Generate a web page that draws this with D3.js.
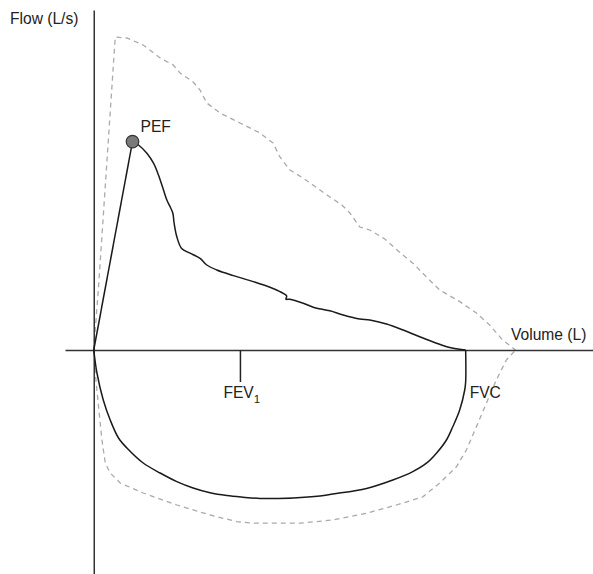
<!DOCTYPE html>
<html>
<head>
<meta charset="utf-8">
<script src="https://cdn.jsdelivr.net/npm/d3@7"></script>
<style>
  html, body { margin: 0; padding: 0; background: #fff; }
  svg { display: block; }
  text { font-family: "Liberation Sans", Arial, Helvetica, sans-serif; fill: #222; }
</style>
</head>
<body>
<svg id="chart" width="593" height="574"></svg>
<script>
// ---- data (volume in L, flow in L/s) ----
const xExtent = [-0.36, 6.25];   // volume axis extent
const yExtent = [-5.6, 8.5];     // flow axis extent

const pefPoint = [0.485, 5.21];
const fev1Volume = 1.83;
const fvcVolume = 4.656;

// measured expiratory limb (origin -> PEF -> FVC)
const expVolume = [0, 0.485, 0.56, 0.665, 0.748, 0.81, 0.873, 0.915, 0.956, 0.99, 1.006, 1.04, 1.10, 1.206, 1.331, 1.415, 1.54, 1.748, 1.998, 2.206, 2.331, 2.415, 2.406, 2.456, 2.623, 2.748, 2.956, 3.123, 3.331, 3.456, 3.665, 3.873, 4.081, 4.29, 4.456, 4.60, 4.656];
const expFlow   = [0, 5.21, 5.125, 4.92, 4.67, 4.375, 4.0, 3.75, 3.58, 3.42, 3.17, 2.83, 2.54, 2.42, 2.29, 2.125, 2.0, 1.86, 1.71, 1.57, 1.46, 1.35, 1.27, 1.27, 1.17, 1.07, 0.98, 0.875, 0.775, 0.75, 0.65, 0.5, 0.33, 0.17, 0.06, 0.01, 0];

// measured inspiratory limb (origin -> FVC)
const inspVolume = [0, 0.04, 0.119, 0.206, 0.31, 0.415, 0.619, 0.831, 1.04, 1.244, 1.456, 1.665, 1.869, 2.081, 2.29, 2.494, 2.831, 2.994, 3.415, 3.744, 3.994, 4.165, 4.29, 4.415, 4.494, 4.581, 4.644, 4.656, 4.656];
const inspFlow   = [0, -0.575, -1.25, -1.75, -2.2, -2.45, -2.825, -3.075, -3.29, -3.45, -3.57, -3.64, -3.68, -3.71, -3.71, -3.70, -3.65, -3.60, -3.46, -3.25, -3.04, -2.83, -2.58, -2.25, -1.92, -1.5, -1.0, -0.79, 0];

// predicted loop (dashed)
const predUpVolume = [0, 0.06, 0.269, 0.415, 0.619, 0.831, 0.994, 1.081, 1.244, 1.331, 1.415, 1.581, 1.831, 2.081, 2.244, 2.331, 2.456, 2.619, 2.744, 2.956, 3.106, 3.206, 3.331, 3.456, 3.644, 3.869, 4.006, 4.165, 4.331, 4.581, 4.79, 4.956, 5.119, 5.281];
const predUpFlow   = [0, 1.58, 7.825, 7.8, 7.625, 7.3, 7.125, 6.925, 6.7, 6.5, 6.175, 5.925, 5.675, 5.425, 5.175, 4.825, 4.5, 4.3, 4.125, 3.825, 3.625, 3.425, 3.075, 3.0, 2.775, 2.375, 2.15, 1.825, 1.5, 1.21, 0.925, 0.625, 0.25, 0];
const predDownVolume = [0, 0.019, 0.06, 0.1025, 0.144, 0.206, 0.331, 0.619, 1.04, 1.456, 1.79, 1.994, 2.581, 2.994, 3.415, 3.79, 4.119, 4.331, 4.54, 4.665, 4.79, 4.915, 5.04, 5.165, 5.281];
const predDownFlow   = [0, -0.575, -1.42, -2.25, -2.825, -3.075, -3.325, -3.575, -3.875, -4.125, -4.29, -4.33, -4.33, -4.25, -4.08, -3.875, -3.67, -3.325, -2.92, -2.5, -1.92, -1.33, -0.75, -0.25, 0];

const labels = { yTitle: "Flow (L/s)", xTitle: "Volume (L)", pef: "PEF", fev: "FEV", fevSub: "1", fvc: "FVC" };

// ---- drawing ----
const svg = d3.select("#chart");
const x = d3.scaleLinear().domain(xExtent).range([65, 593]);
const y = d3.scaleLinear().domain(yExtent).range([574, 10]);

const zip = (a, b) => a.map((v, i) => [v, b[i]]);
const expPts = zip(expVolume, expFlow);
const inspPts = zip(inspVolume, inspFlow);
const predPts = zip(predUpVolume, predUpFlow);
const predDownPts = zip(predDownVolume, predDownFlow);

// predicted dashed loop
const dashLine = d3.line().x(d => x(d[0])).y(d => y(d[1])).curve(d3.curveLinear);
svg.append("path").attr("d", dashLine(predPts))
  .attr("fill", "none").attr("stroke", "#aaa").attr("stroke-width", 1.3).attr("stroke-dasharray", "5,4");
svg.append("path").attr("d", dashLine(predDownPts))
  .attr("fill", "none").attr("stroke", "#aaa").attr("stroke-width", 1.3).attr("stroke-dasharray", "5,4");

// axes
const xAxis = d3.axisBottom(x).tickValues([fev1Volume]).tickSizeInner(32).tickSizeOuter(0).tickFormat("");
const gx = svg.append("g").attr("transform", `translate(0,${y(0)})`).call(xAxis);
const yAxis = d3.axisLeft(y).tickValues([]).tickSizeOuter(0);
const gy = svg.append("g").attr("transform", `translate(${x(0)},0)`).call(yAxis);
[gx, gy].forEach(g => {
  g.select(".domain").attr("stroke", "#333").attr("stroke-width", 1.5);
  g.selectAll(".tick line").attr("stroke", "#222").attr("stroke-width", 1.5);
});

// measured loop (solid)
const solidLine = d3.line().x(d => x(d[0])).y(d => y(d[1])).curve(d3.curveCatmullRom.alpha(0.5));
const straight = d3.line().x(d => x(d[0])).y(d => y(d[1]));
svg.append("path").attr("d", straight(expPts.slice(0, 2)))
  .attr("fill", "none").attr("stroke", "#1a1a1a").attr("stroke-width", 1.5);
svg.append("path").attr("d", solidLine(expPts.slice(1)))
  .attr("fill", "none").attr("stroke", "#1a1a1a").attr("stroke-width", 1.5);
svg.append("path").attr("d", solidLine(inspPts))
  .attr("fill", "none").attr("stroke", "#1a1a1a").attr("stroke-width", 1.5);

// PEF marker
svg.append("circle").attr("cx", x(pefPoint[0])).attr("cy", y(pefPoint[1])).attr("r", 6.3)
  .attr("fill", "#7a7a7a").attr("stroke", "#333").attr("stroke-width", 1.2);

// labels
const fs = 15.6;
svg.append("text").attr("x", 10).attr("y", 24).attr("font-size", fs).text(labels.yTitle);
svg.append("text").attr("x", 511).attr("y", 340).attr("font-size", fs).text(labels.xTitle);
svg.append("text").attr("x", x(pefPoint[0]) + 8).attr("y", 131.5).attr("font-size", fs).text(labels.pef);
const fev = svg.append("text").attr("x", x(fev1Volume) - 16.5).attr("y", 398).attr("font-size", fs);
fev.append("tspan").text(labels.fev);
fev.append("tspan").attr("font-size", 11.5).attr("dy", 5).text(labels.fevSub);
svg.append("text").attr("x", x(fvcVolume) + 4).attr("y", 398).attr("font-size", fs).text(labels.fvc);
</script>
</body>
</html>
